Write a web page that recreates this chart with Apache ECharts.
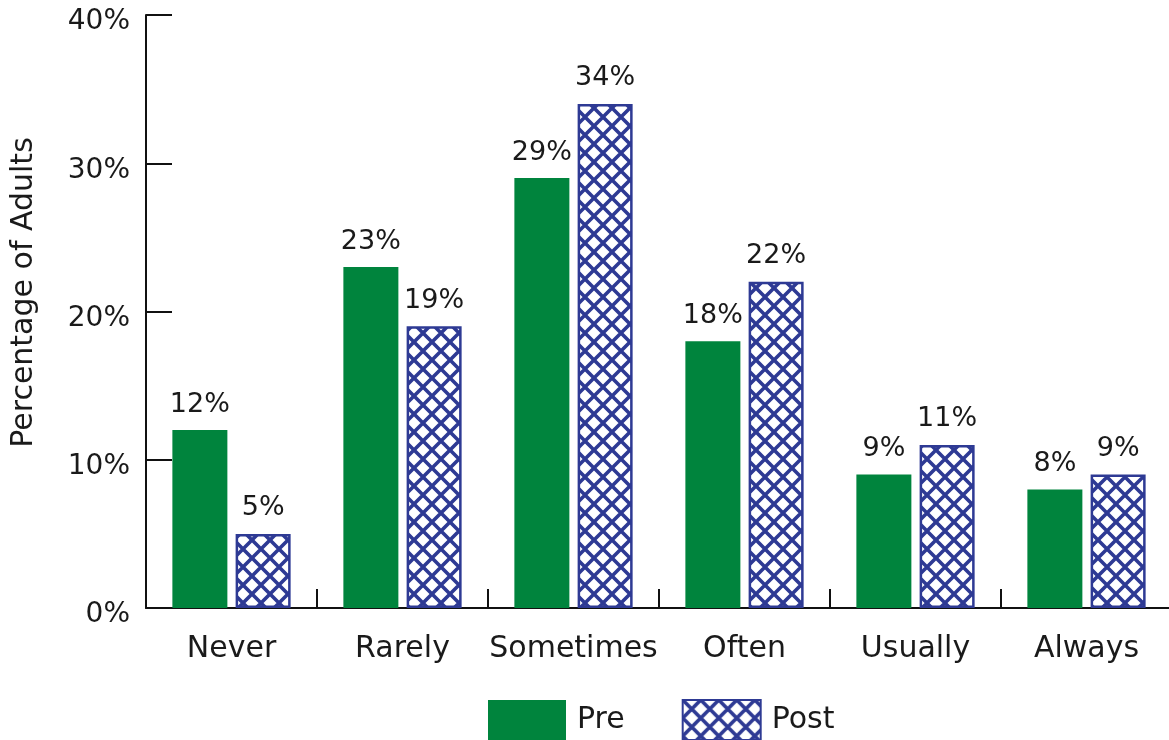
<!DOCTYPE html>
<html><head><meta charset="utf-8">
<script src="https://cdn.jsdelivr.net/npm/echarts@6/dist/echarts.min.js"></script>
<style>html,body{margin:0;padding:0;background:#fff}#c{width:1169px;height:740px}</style>
</head><body><div id="c"></div>
<script>
const categories = ['Never','Rarely','Sometimes','Often','Usually','Always'];
const preValues = [12,23,29,18,9,8];
const postValues = [5,19,34,22,11,9];
const yTicks = [0,10,20,30,40];

const GREEN = '#00843D';
const BLUE = '#2E3A94';
const FONT = 'DejaVu Sans';
const TXT = '#1a1a1a';

function hatch(){
  const s = 18;
  const c = document.createElement('canvas');
  c.width = s; c.height = s;
  const g = c.getContext('2d');
  g.fillStyle = '#fff'; g.fillRect(0,0,s,s);
  g.strokeStyle = BLUE; g.lineWidth = 3.6;
  g.beginPath();
  for (const o of [-s,0,s]) {
    g.moveTo(o, 0); g.lineTo(o + s, s);
    g.moveTo(o + s, 0); g.lineTo(o, s);
  }
  g.stroke();
  return c;
}
const pattern = {image: hatch(), repeat: 'repeat'};

const chart = echarts.init(document.getElementById('c'));
chart.setOption({
  animation: false,
  textStyle: {fontFamily: FONT},
  grid: {left: 146, top: 15, width: 1026, bottom: 132, containLabel: false, outerBoundsMode: 'none'},
  legend: {
    data: ['Pre','Post'],
    left: 488, top: 699, padding: 0,
    itemWidth: 78, itemHeight: 40, itemGap: 57,
    icon: 'rect',
    textStyle: {fontFamily: FONT, fontSize: 30, color: TXT, padding: [0,0,0,6]}
  },
  xAxis: {
    type: 'category', data: categories,
    axisLine: {lineStyle: {color: '#111', width: 2}},
    axisTick: {show: true, inside: true, length: 19, lineStyle: {color: '#111', width: 2}, interval: 0},
    axisLabel: {fontFamily: FONT, fontSize: 30, color: TXT, margin: 26, interval: 0}
  },
  yAxis: {
    type: 'value', min: 0, max: 40, interval: 10,
    name: 'Percentage of Adults', nameLocation: 'middle', nameGap: 107,
    nameTextStyle: {fontFamily: FONT, fontSize: 30, color: TXT, padding: [0,0,0,38]},
    axisLine: {show: true, lineStyle: {color: '#111', width: 2}},
    axisTick: {show: true, inside: true, length: 26, lineStyle: {color: '#111', width: 2}},
    splitLine: {show: false},
    axisLabel: {margin: 16,
      formatter: v => yTicks.includes(v) ? '{p|' + v + '%}' : '',
      rich: {p: {fontFamily: FONT, fontSize: 28, color: TXT, padding: [14,0,0,0]}}}
  },
  series: [
    {name: 'Pre', type: 'bar', data: preValues, barWidth: 55, barGap: '15%',
     itemStyle: {color: GREEN},
     label: {show: true, position: 'top', distance: 12, formatter: '{c}%', fontFamily: FONT, fontSize: 27, color: TXT}},
    {name: 'Post', type: 'bar', data: postValues, barWidth: 55,
     itemStyle: {color: pattern, borderColor: BLUE, borderWidth: 2.5},
     label: {show: true, position: 'top', distance: 12, formatter: '{c}%', fontFamily: FONT, fontSize: 27, color: TXT}}
  ]
});
</script>
</body></html>
